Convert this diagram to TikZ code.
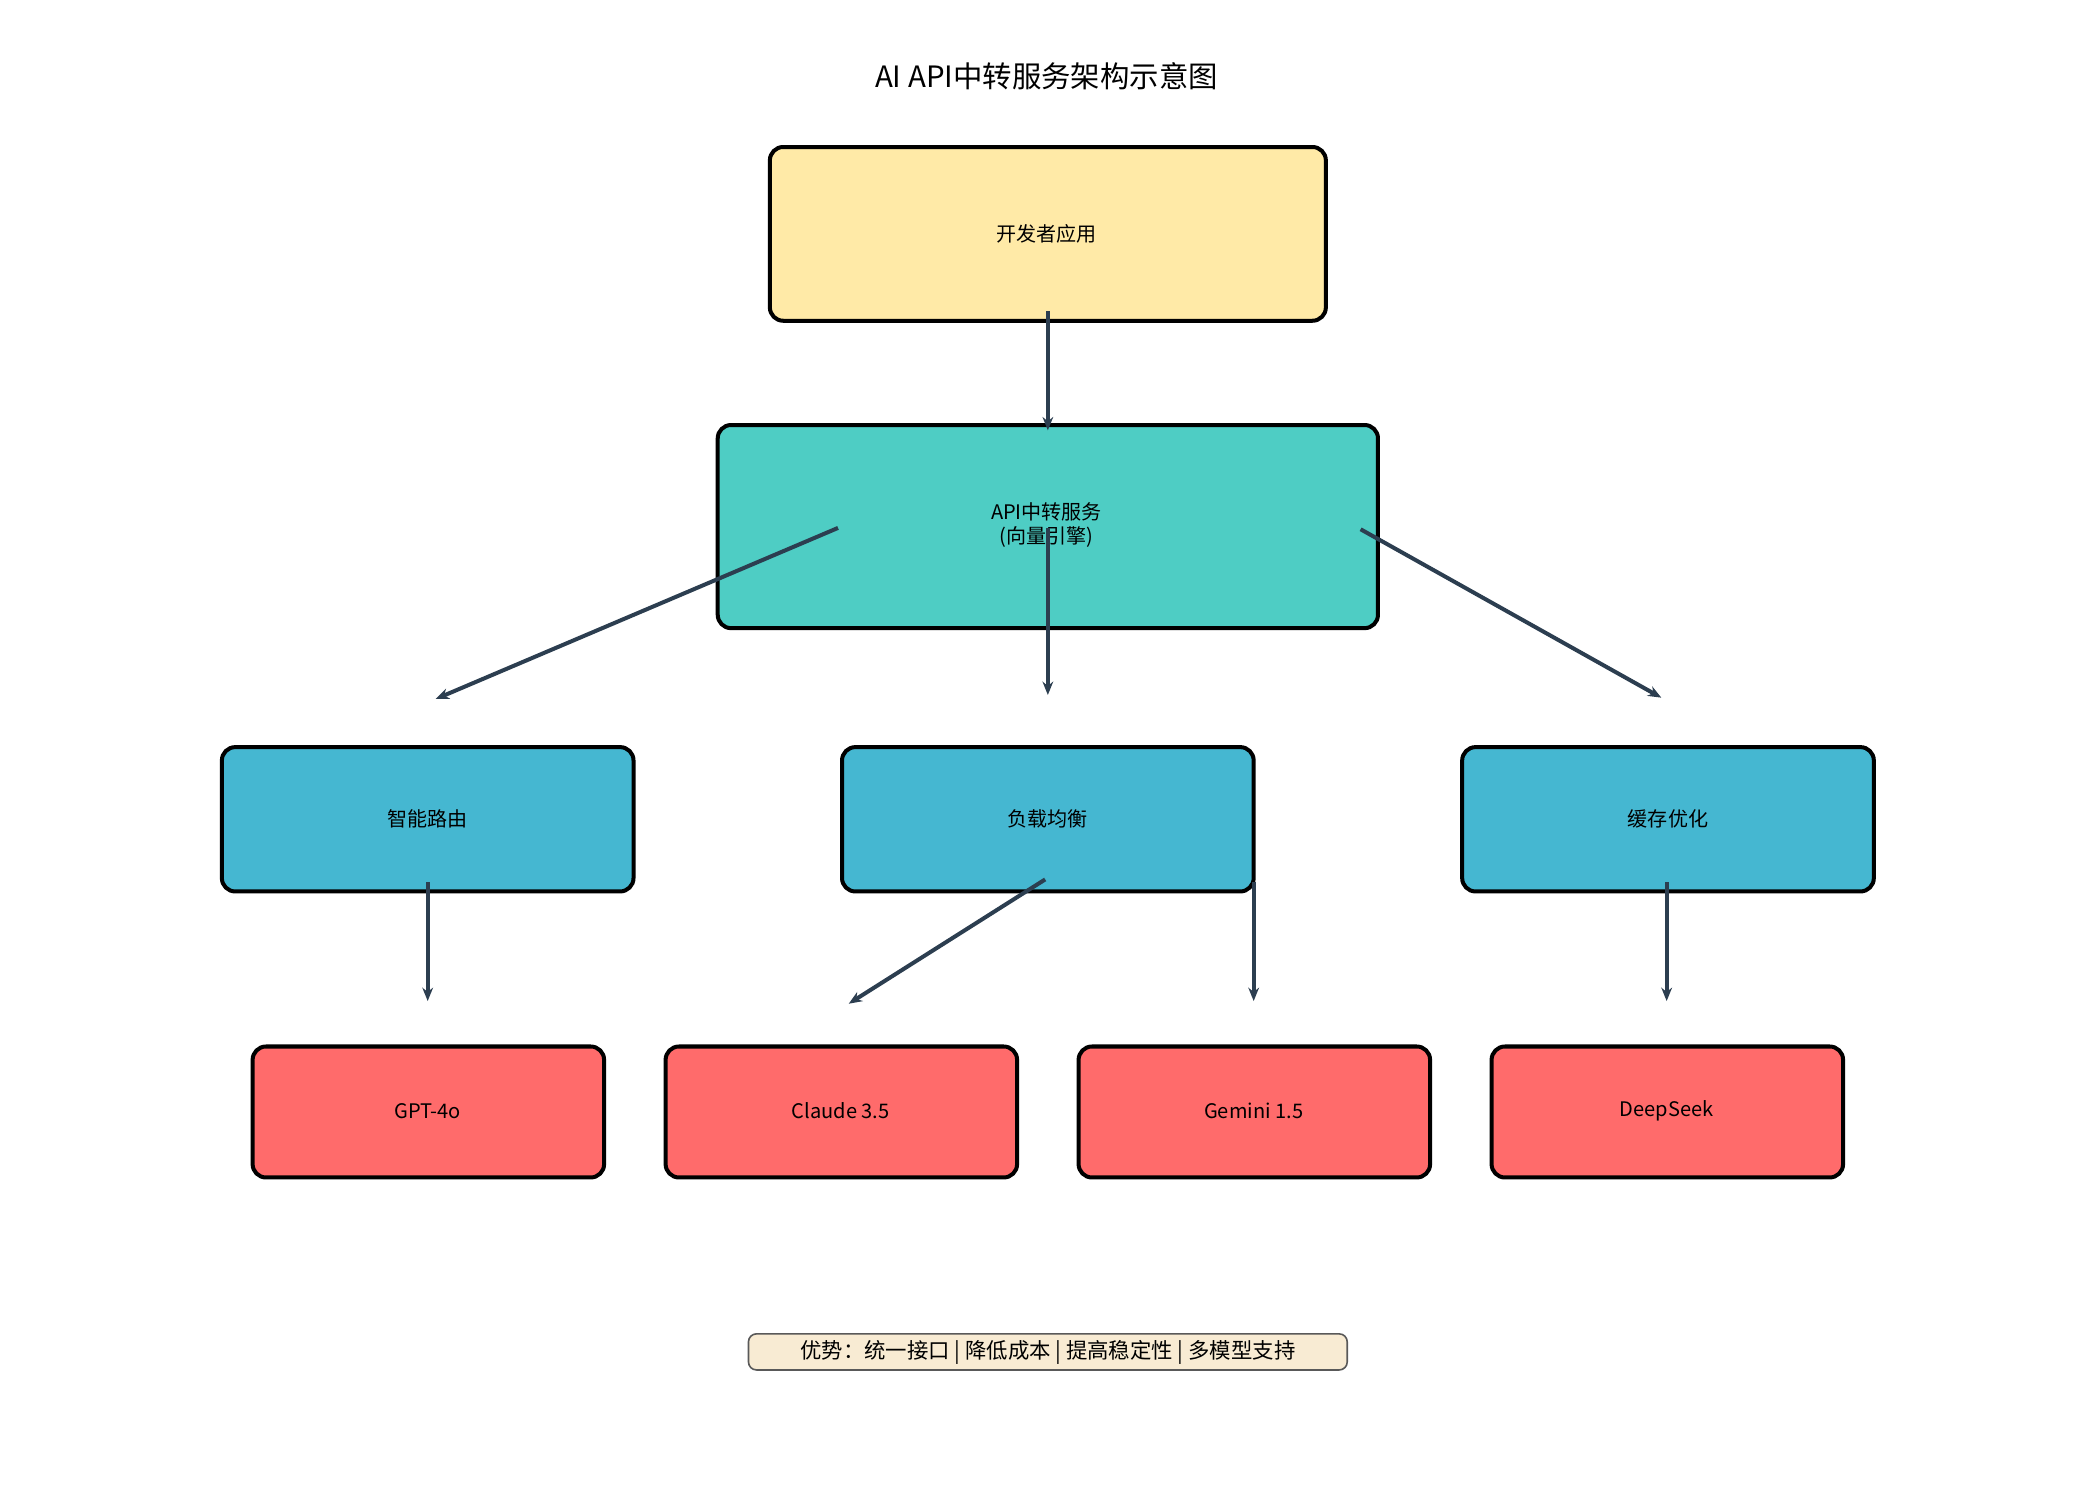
\documentclass[tikz,border=0pt]{standalone}
\usepackage{fontspec}
\setmainfont{Noto Sans CJK SC}
\usetikzlibrary{arrows.meta}
\begin{document}
\begin{tikzpicture}[x=0.5pt,y=-0.5pt,
  box/.style={draw=black,line width=1.5pt,rounded corners=5pt},
  lbl/.style={font=\fontsize{7.5}{9}\selectfont,align=center},
  arr/.style={draw=black!50!blue!30!gray,color={rgb,255:red,44;green,62;blue,80},line width=1.5pt,-{Stealth[length=5pt,width=4pt]}}]
\useasboundingbox (0,0) rectangle (1560,1111);
\definecolor{cY}{HTML}{FFEAA7}\definecolor{cT}{HTML}{4ECDC4}
\definecolor{cB}{HTML}{45B7D1}\definecolor{cR}{HTML}{FF6B6B}
\definecolor{cF}{HTML}{F8EBD3}
\node[font=\fontsize{11}{13}\selectfont] (title) at (783,57) {AI API中转服务架构示意图};
\filldraw[box,fill=cY] (576,110) rectangle (992,240);
\node[lbl] (dev) at (783,175) {开发者应用};
\filldraw[box,fill=cT] (537,318) rectangle (1031,470);
\node[lbl] (api) at (783,393) {API中转服务\\(向量引擎)};
\foreach \x/\n/\t in {166/r/智能路由,630/l/负载均衡,1094/c/缓存优化}{
  \filldraw[box,fill=cB] (\x,559) rectangle ++(308,108);
  \node[lbl] (\n) at (\x+154,613) {\t};}
\foreach \x/\n/\t in {189/g/GPT-4o,498/cl/Claude 3.5,807/ge/Gemini 1.5,1116/d/DeepSeek}{
  \filldraw[box,fill=cR] (\x,783) rectangle ++(263,98);
  \node[lbl] (\n) at (\x+131,831) {\t};}
\filldraw[draw=gray!70!black,line width=0.6pt,rounded corners=3pt,fill=cF] (560,998) rectangle (1008,1025);
\node[font=\fontsize{8}{10}\selectfont] (foot) at (784,1012) {优势：统一接口 | 降低成本 | 提高稳定性 | 多模型支持};
\coordinate (a1s) at (784,233); \coordinate (a1e) at (784,322);
\coordinate (a2s) at (627,395); \coordinate (a2e) at (326,523);
\coordinate (a3s) at (784,395); \coordinate (a3e) at (784,520);
\coordinate (a4s) at (1018,396); \coordinate (a4e) at (1243,522);
\coordinate (b1s) at (320,660); \coordinate (b1e) at (320,749);
\coordinate (b2s) at (782,658); \coordinate (b2e) at (635,751);
\coordinate (b3s) at (938,660); \coordinate (b3e) at (938,749);
\coordinate (b4s) at (1247,660); \coordinate (b4e) at (1247,749);
\foreach \s/\e in {a1s/a1e,a2s/a2e,a3s/a3e,a4s/a4e,b1s/b1e,b2s/b2e,b3s/b3e,b4s/b4e}
  \draw[arr] (\s) -- (\e);
\end{tikzpicture}
\end{document}
